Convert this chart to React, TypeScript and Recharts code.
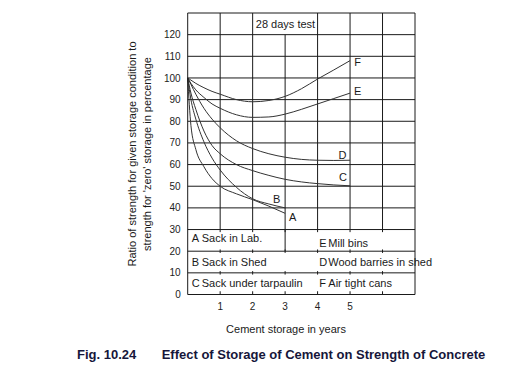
import { LineChart, Line, XAxis, YAxis, ReferenceLine } from 'recharts'

// storage time in years (x) and strength ratio in % for each storage condition
const YEARS = [0, 0.1, 0.25, 0.5, 0.75, 1, 1.5, 2, 2.5, 3, 3.5, 4, 4.5, 5]
const SACK_LAB = [100, 78, 67, 59, 53.5, 50, 46.5, 43.8, 40.8, 37.5, null, null, null, null]
const SACK_SHED = [100, 90, 81, 70.5, 63, 57.5, 49.5, 44.2, 41.8, 40, null, null, null, null]
const SACK_TARP = [100, 93, 85.5, 75.5, 68.8, 65, 60, 57.2, 55, 53.2, 52, 51.2, 50.6, 50.2]
const WOOD_BARREL = [100, 97, 92.5, 86, 81, 77, 71, 67.4, 65, 63.4, 62.4, 62, 61.9, 62]
const MILL_BINS = [100, 97.5, 94.5, 91, 88, 86, 83, 81.8, 82, 83.3, 85.5, 88, 90.5, 93]
const AIR_CANS = [100, 99, 97.5, 95.5, 93.8, 92.5, 90, 89, 89.6, 91.5, 95, 99.5, 103.7, 108]

const Y_TICKS = [0, 10, 20, 30, 40, 50, 60, 70, 80, 90, 100, 110, 120]
const X_TICKS = [1, 2, 3, 4, 5]
const GRID_X = [1, 2, 3, 4, 5, 6]
const GRID_Y = [10, 20, 30, 40, 50, 60, 70, 80, 90, 100, 110, 120, 130]

const LETTERS = ['A', 'B', 'C', 'D', 'E', 'F']
const NAMES = ['Sack in Lab.', 'Sack in Shed', 'Sack under tarpaulin', 'Wood barries in shed', 'Mill bins', 'Air tight cans']
const SERIES = [SACK_LAB, SACK_SHED, SACK_TARP, WOOD_BARREL, MILL_BINS, AIR_CANS]
// where the letter sits relative to the curve end
const LABEL_OFFSET: Record<string, [number, number]> = {
  A: [7.5, 4], B: [-8.5, -9], C: [-7, -9], D: [-7.5, -5], E: [7.5, -2], F: [7.5, 1.5],
}

const data = YEARS.map((year, i) => {
  const row: Record<string, number | null> = { year }
  LETTERS.forEach((k, s) => { row[k] = SERIES[s][i] })
  return row
})

const FONT = '"Liberation Sans", Arial, Helvetica, sans-serif'
const INK = '#1a1a1a'

function EndLabel(letter: string, count: number) {
  // eslint-disable-next-line @typescript-eslint/no-explicit-any
  return (props: any) => {
    const { x, y, index } = props
    if (index !== count - 1) return null
    const [dx, dy] = LABEL_OFFSET[letter]
    return (
      <text x={x + dx} y={y + dy} textAnchor="middle" dominantBaseline="central" fontSize={11} fill={INK} fontFamily={FONT}>
        {letter}
      </text>
    )
  }
}

// legend table rows: left column A,B,C ; right column E,D,F
const TABLE_LEFT = ['A', 'B', 'C']
const TABLE_RIGHT = ['E', 'D', 'F']
const ROW_Y_LEFT = [238.3, 261.7, 283.3]
const ROW_Y_RIGHT = [242.7, 261.7, 283.3]

export default function App() {
  return (
    <div style={{ position: 'relative', width: 512, height: 357 }}>
      <LineChart width={420} height={357} data={data} margin={{ top: 5, right: 13, bottom: 40.5, left: 149.7 }}>
        <XAxis
          dataKey="year"
          type="number"
          domain={[0, 7]}
          ticks={X_TICKS}
          tickLine={false}
          tickSize={6}
          tickMargin={2}
          axisLine={{ stroke: INK }}
          height={30}
          tick={{ fontSize: 10, fill: '#222', fontFamily: FONT }}
        />
        <YAxis
          type="number"
          domain={[0, 130]}
          ticks={Y_TICKS}
          tickLine={false}
          tickSize={5}
          tickMargin={2}
          axisLine={{ stroke: INK }}
          width={30}
          tick={{ fontSize: 10, fill: '#222', fontFamily: FONT }}
        />
        {GRID_Y.map((v) => (
          <ReferenceLine key={'h' + v} y={v} stroke={INK} strokeWidth={1} />
        ))}
        <ReferenceLine x={7} stroke={INK} strokeWidth={1} />
        {GRID_X.map((v) => (
          <ReferenceLine
            key={'v' + v}
            segment={v === 3 ? [{ x: v, y: 20 }, { x: v, y: 120 }] : [{ x: v, y: 30 }, { x: v, y: 130 }]}
            stroke={INK}
            strokeWidth={1}
          />
        ))}
        {/* small tick marks across the table rows */}
        {GRID_X.flatMap((v) =>
          [10, 20].map((row) => (
            <ReferenceLine key={'t' + v + '-' + row} segment={[{ x: v, y: row - 0.8 }, { x: v, y: row + 0.8 }]} stroke={INK} />
          )),
        )}
        {GRID_X.map((v) => (
          <ReferenceLine key={'b' + v} segment={[{ x: v, y: 0 }, { x: v, y: 1.5 }]} stroke={INK} />
        ))}
        {GRID_X.map((v) => (
          <ReferenceLine key={'c' + v} segment={[{ x: v, y: 28.8 }, { x: v, y: 30 }]} stroke={INK} />
        ))}
        {LETTERS.map((k, s) => (
          <Line
            key={k}
            dataKey={k}
            type="monotone"
            stroke="#333"
            strokeWidth={1}
            dot={false}
            isAnimationActive={false}
            label={EndLabel(k, SERIES[s].filter((v) => v !== null).length)}
          />
        ))}
      </LineChart>

      <svg width={528} height={373} style={{ position: 'absolute', left: -8, top: -8, pointerEvents: 'none' }} fontFamily={FONT}>
        <rect x={254} y={16} width={62} height={16} fill="#fff" />
        <text x={285.5} y={24} textAnchor="middle" dominantBaseline="central" fontSize={11} fill={INK}>
          28 days test
        </text>
        {TABLE_LEFT.map((k, i) => (
          <g key={k}>
            <text x={191.7} y={ROW_Y_LEFT[i]} dominantBaseline="central" fontSize={11} fill={INK}>{k}</text>
            <text x={201.7} y={ROW_Y_LEFT[i]} dominantBaseline="central" fontSize={11} fill={INK}>{NAMES[LETTERS.indexOf(k)]}</text>
          </g>
        ))}
        {TABLE_RIGHT.map((k, i) => (
          <g key={k}>
            <text x={319.3} y={ROW_Y_RIGHT[i]} dominantBaseline="central" fontSize={11} fill={INK}>{k}</text>
            <text x={328.3} y={ROW_Y_RIGHT[i]} dominantBaseline="central" fontSize={11} fill={INK}>{NAMES[LETTERS.indexOf(k)]}</text>
          </g>
        ))}
        <g transform="translate(132, 154) rotate(-90)">
          <text x={0} y={0} textAnchor="middle" dominantBaseline="central" fontSize={11} fill={INK}>
            Ratio of strength for given storage condition to
          </text>
          <text x={0} y={14.5} textAnchor="middle" dominantBaseline="central" fontSize={11} fill={INK}>
            strength for 'zero' storage in percentage
          </text>
        </g>
        <text x={286} y={329.3} textAnchor="middle" dominantBaseline="central" fontSize={11} fill={INK}>
          Cement storage in years
        </text>
        <text x={77} y={354} dominantBaseline="central" fontSize={13} fontWeight="bold" fill="#16163a">
          Fig. 10.24
        </text>
        <text x={161.7} y={354} dominantBaseline="central" fontSize={13} fontWeight="bold" fill="#16163a">
          Effect of Storage of Cement on Strength of Concrete
        </text>
      </svg>
    </div>
  )
}
